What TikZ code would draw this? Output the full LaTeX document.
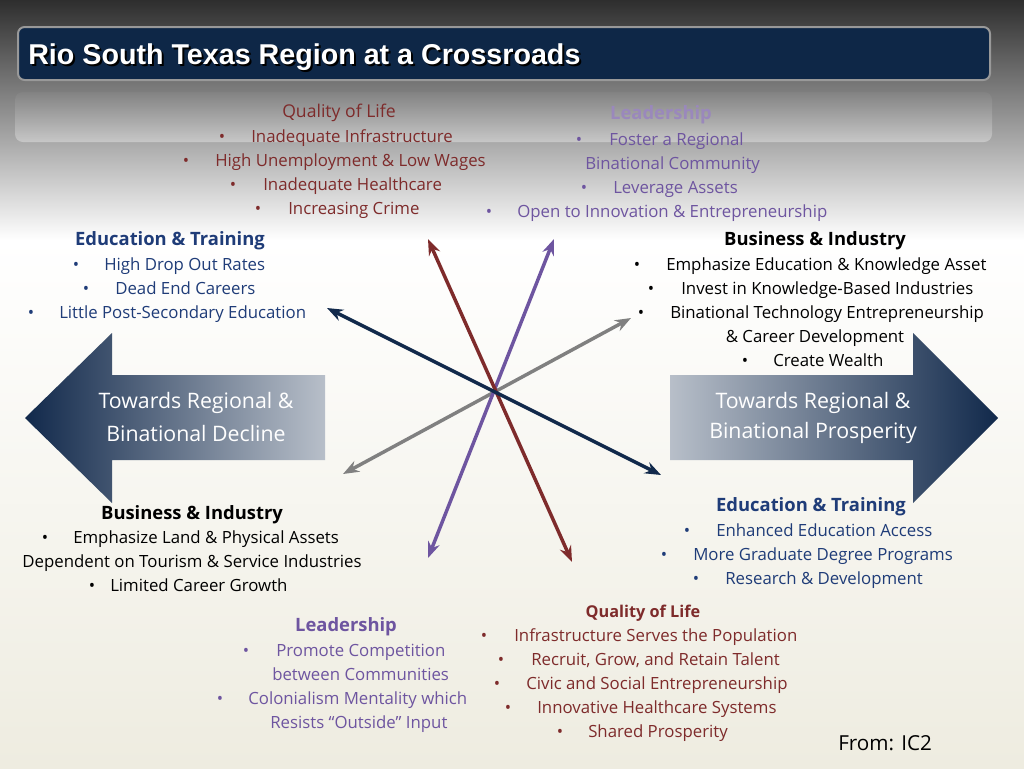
\documentclass[tikz,border=0pt]{standalone}
\usepackage{fontspec}
\setmainfont{Open Sans}
\newfontfamily\titlefont{Liberation Sans}
\usetikzlibrary{arrows.meta}
\definecolor{qred}{HTML}{7E2B2B}
\definecolor{lpur}{HTML}{6E55A0}
\definecolor{eblue}{HTML}{1F3C78}
\definecolor{navy}{HTML}{11294B}
\definecolor{bar}{HTML}{0E2747}
\begin{document}
\begin{tikzpicture}[x=0.75pt,y=-0.75pt,
  txt/.style={anchor=west,inner sep=0pt,text height=9pt,text depth=3pt,font=\fontsize{12.6}{14}\selectfont},
  bul/.style={txt,anchor=center},
  hd/.style={anchor=center,inner sep=0pt,text height=10pt,text depth=3pt,font=\fontsize{13.8}{16}\selectfont\bfseries},
  big/.style={anchor=center,inner sep=0pt,text=white,font=\fontsize{16}{18}\selectfont},
  dbl/.style={line width=2.6pt,{Stealth[length=12pt,width=9pt]}-{Stealth[length=12pt,width=9pt]}}]
\useasboundingbox (0,0) rectangle (1024,768);
\shade[top color=black!82,bottom color=white] (0,0) rectangle (1024,240);
\shade[top color=white,bottom color={rgb,255:red,238;green,236;blue,224}] (0,240) rectangle (1024,768);
\shade[top color=black!45,bottom color=white,opacity=0.35,rounded corners=6pt] (15,92) rectangle (992,142);
\draw[rounded corners=5pt,fill=bar,draw=black!40,line width=1.5pt] (18,27) rectangle (990,80);
\node[anchor=west,inner sep=0pt,text=black,font=\titlefont\fontsize{21.5}{24}\selectfont\bfseries] (tsh) at (30,59.5) {Rio South Texas Region at a Crossroads};
\node[anchor=west,inner sep=0pt,text=white,font=\titlefont\fontsize{21.5}{24}\selectfont\bfseries] (title) at (28,57) {Rio South Texas Region at a Crossroads};
% big arrows
\shade[left color=navy,right color=navy!30] (25,418) -- (112,333) -- (112,375) -- (325,375) -- (325,460) -- (112,460) -- (112,503) -- cycle;
\shade[left color=navy!30,right color=navy] (998,418) -- (913,333) -- (913,375) -- (670,375) -- (670,460) -- (913,460) -- (913,503) -- cycle;
\node[big] (l1) at (196,403) {Towards Regional \&};
\node[big] (l2) at (196,433) {Binational Decline};
\node[big] (r1) at (813,403) {Towards Regional \&};
\node[big] (r2) at (813,433) {Binational Prosperity};
% crossing arrows
\coordinate (a1) at (327,308); \coordinate (a2) at (661,475);
\coordinate (b1) at (343,474); \coordinate (b2) at (631,318);
\coordinate (c1) at (428,239); \coordinate (c2) at (572,562);
\coordinate (d1) at (554,239); \coordinate (d2) at (428,558);
\draw[dbl,color=black!50] (b1) -- (b2);
\draw[dbl,color=lpur] (d1) -- (d2);
\draw[dbl,color=qred] (c1) -- (c2);
\draw[dbl,color=navy] (a1) -- (a2);
\begin{scope}[every node/.append style={text=qred}]
\node[hd,font=\fontsize{13.2}{16}\selectfont] (q0) at (339,113) {Quality of Life};
\node[bul] at (222,138) {•}; \node[txt] (q1) at (251,138) {Inadequate Infrastructure};
\node[bul] at (186,162) {•}; \node[txt] (q2) at (215,162) {High Unemployment \& Low Wages};
\node[bul] at (233,186) {•}; \node[txt] (q3) at (263,186) {Inadequate Healthcare};
\node[bul] at (258,210) {•}; \node[txt] (q4) at (288,210) {Increasing Crime};
\end{scope}
\begin{scope}[every node/.append style={text=lpur}]
\node[hd,text=lpur!70] (t0) at (661,115) {Leadership};
\node[bul] at (579,141) {•}; \node[txt] (t1) at (609,141) {Foster a Regional};
\node[txt] (t2) at (585,165) {Binational Community};
\node[bul] at (584,189) {•}; \node[txt] (t3) at (613,189) {Leverage Assets};
\node[bul] at (489,213) {•}; \node[txt] (t4) at (517,213) {Open to Innovation \& Entrepreneurship};
\end{scope}
\begin{scope}[every node/.append style={text=eblue}]
\node[hd] (e0) at (170,241) {Education \& Training};
\node[bul] at (76,266) {•}; \node[txt] (e1) at (104,266) {High Drop Out Rates};
\node[bul] at (86,290) {•}; \node[txt] (e2) at (115,290) {Dead End Careers};
\node[bul] at (31,314) {•}; \node[txt] (e3) at (59,314) {Little Post-Secondary Education};
\end{scope}
\node[hd] (b0) at (815,241) {Business \& Industry};
\node[bul] at (637,266) {•}; \node[txt] (b1t) at (666,266) {Emphasize Education \& Knowledge Asset};
\node[bul] at (651,290) {•}; \node[txt] (b2t) at (681,290) {Invest in Knowledge-Based Industries};
\node[bul] at (641,314) {•}; \node[txt] (b3t) at (670,314) {Binational Technology Entrepreneurship};
\node[bul] (b4t) at (815,338) {\& Career Development};
\node[bul] at (745,362) {•}; \node[txt] (b5t) at (773,362) {Create Wealth};
\begin{scope}[every node/.append style={text=eblue}]
\node[hd] (f0) at (811,507) {Education \& Training};
\node[bul] at (687,532) {•}; \node[txt] (f1) at (716,532) {Enhanced Education Access};
\node[bul] at (664,556) {•}; \node[txt] (f2) at (693,556) {More Graduate Degree Programs};
\node[bul] at (696,580) {•}; \node[txt] (f3) at (725,580) {Research \& Development};
\end{scope}
\node[hd] (g0) at (192,515) {Business \& Industry};
\node[bul] at (45,539) {•}; \node[txt] (g1) at (73,539) {Emphasize Land \& Physical Assets};
\node[bul] (g2) at (192,563) {Dependent on Tourism \& Service Industries};
\node[bul] at (92,587) {•}; \node[txt] (g3) at (110,587) {Limited Career Growth};
\begin{scope}[every node/.append style={text=lpur}]
\node[hd] (h0) at (346,627) {Leadership};
\node[bul] at (246,652) {•}; \node[txt] (h1) at (276,652) {Promote Competition};
\node[txt] (h2) at (272,676) {between Communities};
\node[bul] at (220,700) {•}; \node[txt] (h3) at (248,700) {Colonialism Mentality which};
\node[txt] (h4) at (270,724) {Resists “Outside” Input};
\end{scope}
\begin{scope}[every node/.append style={text=qred}]
\node[hd,font=\fontsize{12.2}{14}\selectfont\bfseries] (p0) at (643,613) {Quality of Life};
\node[bul] at (484,637) {•}; \node[txt] (p1) at (514,637) {Infrastructure Serves the Population};
\node[bul] at (501,661) {•}; \node[txt] (p2) at (531,661) {Recruit, Grow, and Retain Talent};
\node[bul] at (497,685) {•}; \node[txt] (p3) at (526,685) {Civic and Social Entrepreneurship};
\node[bul] at (508,709) {•}; \node[txt] (p4) at (537,709) {Innovative Healthcare Systems};
\node[bul] at (560,733) {•}; \node[txt] (p5) at (588,733) {Shared Prosperity};
\end{scope}
\node[txt,font=\fontsize{15.5}{18}\selectfont] (from) at (838,746) {From: IC2};
\end{tikzpicture}
\end{document}
